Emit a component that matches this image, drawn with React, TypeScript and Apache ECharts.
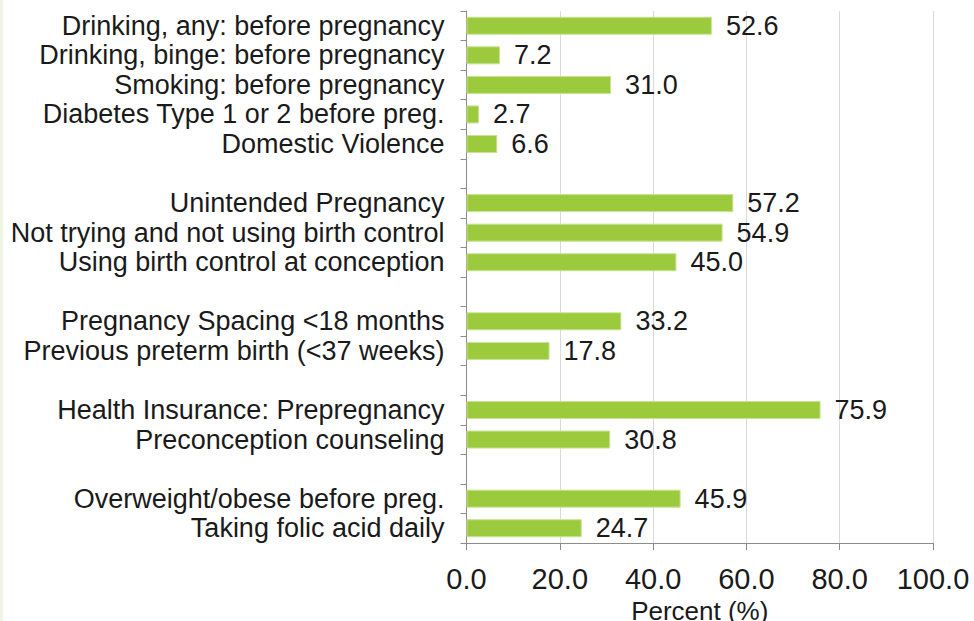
import React, { useEffect, useRef } from "react";
import * as echarts from "echarts";

// Categories (top to bottom); empty strings are the group gaps
const categories: string[] = [
  "Drinking, any: before pregnancy",
  "Drinking, binge: before pregnancy",
  "Smoking: before pregnancy",
  "Diabetes Type 1 or 2 before preg.",
  "Domestic Violence",
  "",
  "Unintended Pregnancy",
  "Not trying and not using birth control",
  "Using birth control at conception",
  "",
  "Pregnancy Spacing <18 months",
  "Previous preterm birth (<37 weeks)",
  "",
  "Health Insurance: Prepregnancy",
  "Preconception counseling",
  "",
  "Overweight/obese before preg.",
  "Taking folic acid daily",
];

const percentValues: (number | null)[] = [
  52.6, 7.2, 31.0, 2.7, 6.6,
  null,
  57.2, 54.9, 45.0,
  null,
  33.2, 17.8,
  null,
  75.9, 30.8,
  null,
  45.9, 24.7,
];

const xTicks: number[] = [0, 20, 40, 60, 80, 100];

export default function App() {
  const ref = useRef<HTMLDivElement>(null);

  useEffect(() => {
    if (!ref.current) return;
    const chart = echarts.init(ref.current, undefined, { renderer: "svg" });
    const axisData = categories.map((c, i) => (c === "" ? `__gap${i}` : c));
    const font = "Liberation Sans, Arial, sans-serif";
    chart.setOption({
      animation: false,
      backgroundColor: "#ffffff",
      textStyle: { fontFamily: font },
      graphic: [
        {
          type: "rect",
          left: 0,
          top: 0,
          shape: { width: 3, height: 621 },
          style: { fill: "#eef6e2" },
          silent: true,
        },
      ],
      grid: {
        left: 466.5,
        right: 41,
        top: 11,
        bottom: 78,
        containLabel: false,
        outerBoundsMode: "none",
      },
      xAxis: {
        type: "value",
        min: xTicks[0],
        max: xTicks[xTicks.length - 1],
        interval: xTicks[1] - xTicks[0],
        name: "Percent (%)",
        nameLocation: "middle",
        nameGap: 49,
        nameTextStyle: { fontSize: 26, color: "#1a1a1a", fontFamily: font },
        axisLine: { show: true, lineStyle: { color: "#8c8c8c", width: 1 } },
        axisTick: { show: true, length: 7, lineStyle: { color: "#8c8c8c" } },
        axisLabel: {
          fontSize: 29,
          color: "#1a1a1a",
          margin: 21,
          fontFamily: font,
          formatter: (v: number) => v.toFixed(1),
        },
        splitLine: { show: true, lineStyle: { color: "#d9d9d9", width: 1 } },
      },
      yAxis: {
        type: "category",
        inverse: true,
        data: axisData,
        axisLine: { show: true, lineStyle: { color: "#8c8c8c", width: 1 } },
        axisTick: { show: true, length: 6, interval: 0, lineStyle: { color: "#8c8c8c" } },
        axisLabel: {
          interval: 0,
          fontSize: 27,
          color: "#1a1a1a",
          margin: 22,
          fontFamily: font,
          formatter: (v: string) => (v.startsWith("__gap") ? "" : v),
        },
        splitLine: { show: false },
      },
      series: [
        {
          type: "bar",
          data: percentValues,
          barWidth: 18,
          itemStyle: { color: "#9bca3c", borderColor: "#c9e394", borderWidth: 1 },
          label: {
            show: true,
            position: "right",
            distance: 14,
            fontSize: 27,
            color: "#1a1a1a",
            fontFamily: font,
            formatter: (p: any) => (p.value == null ? "" : Number(p.value).toFixed(1)),
          },
        },
      ],
    });
    return () => chart.dispose();
  }, []);

  return (
    <div
      ref={ref}
      style={{ position: "fixed", left: 0, top: 0, width: 974, height: 621 }}
    />
  );
}
